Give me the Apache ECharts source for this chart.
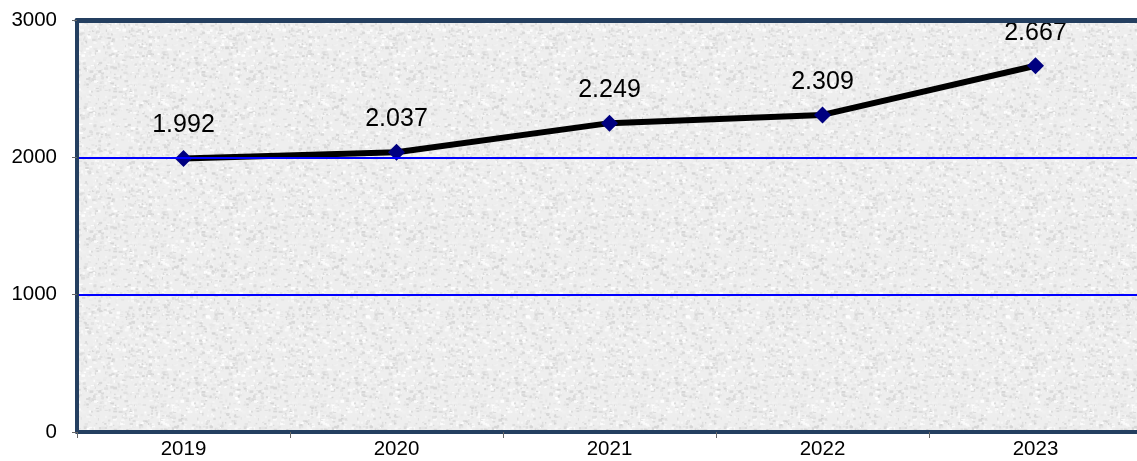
<!DOCTYPE html>
<html>
<head>
<meta charset="utf-8">
<script src="https://cdn.jsdelivr.net/npm/echarts@6/dist/echarts.min.js"></script>
<style>
html,body{margin:0;padding:0;background:#fff;overflow:hidden;}
#chart{width:1150px;height:461px;}
</style>
</head>
<body>
<div id="chart"></div>
<script>
const years = ['2019', '2020', '2021', '2022', '2023'];
const values = [1992, 2037, 2249, 2309, 2667];
const yTicks = [0, 1000, 2000, 3000];

// deterministic speckle texture for the plot background
function makeTexture() {
  const N = 160;
  const c = document.createElement('canvas');
  c.width = N; c.height = N;
  const ctx = c.getContext('2d');
  let s = 12345;
  function rnd() { s = (s * 1103515245 + 12345) & 0x7fffffff; return s / 0x7fffffff; }
  ctx.fillStyle = '#eeeeee';
  ctx.fillRect(0, 0, N, N);
  for (let i = 0; i < 2600; i++) {
    const x = rnd() * N, y = rnd() * N;
    const v = Math.round(212 + rnd() * 43);
    ctx.fillStyle = 'rgb(' + v + ',' + v + ',' + v + ')';
    ctx.fillRect(x, y, 1 + rnd() * 3, 1 + rnd() * 2);
  }
  return c;
}

const font = 'Liberation Sans, Arial, sans-serif';
const dark = '#243F60';

const chart = echarts.init(document.getElementById('chart'), null, {renderer: 'canvas'});
chart.setOption({
  animation: false,
  backgroundColor: '#ffffff',
  grid: {
    left: 77, top: 20, right: 8, bottom: 29,
    show: true,
    backgroundColor: {image: makeTexture(), repeat: 'repeat'},
    borderWidth: 0
  },
  xAxis: [{
    type: 'category',
    data: years,
    boundaryGap: true,
    axisLine: {show: true, lineStyle: {color: dark, width: 4}},
    axisTick: {show: true, inside: false, length: 6, lineStyle: {color: '#666'}},
    axisLabel: {color: '#000', fontSize: 20.5, fontFamily: font, margin: 7},
    splitLine: {show: false},
    z: 10
  }, {
    type: 'category',
    data: years,
    position: 'top',
    boundaryGap: true,
    axisLine: {show: true, lineStyle: {color: dark, width: 5}},
    axisTick: {show: false},
    axisLabel: {show: false},
    splitLine: {show: false},
    z: 10
  }],
  yAxis: {
    type: 'value',
    min: 0, max: 3000, interval: 1000,
    axisLine: {show: true, lineStyle: {color: dark, width: 4}},
    axisTick: {show: true, length: 5, lineStyle: {color: '#666'}},
    axisLabel: {
      color: '#000', fontSize: 20.5, fontFamily: font, margin: 20,
      formatter: v => yTicks.includes(v) ? String(v) : ''
    },
    splitLine: {show: true, lineStyle: {color: '#0000FF', width: 2}},
    z: 10
  },
  series: [{
    type: 'line',
    data: values,
    lineStyle: {color: '#000000', width: 6},
    symbol: 'diamond',
    symbolSize: 17,
    itemStyle: {color: '#000080'},
    label: {
      show: true,
      position: 'top',
      distance: 12,
      color: '#000',
      fontSize: 25,
      fontFamily: font,
      formatter: p => {
        const v = p.value;
        return Math.floor(v / 1000) + '.' + String(v % 1000).padStart(3, '0');
      }
    },
    z: 5
  }]
});
</script>
</body>
</html>
